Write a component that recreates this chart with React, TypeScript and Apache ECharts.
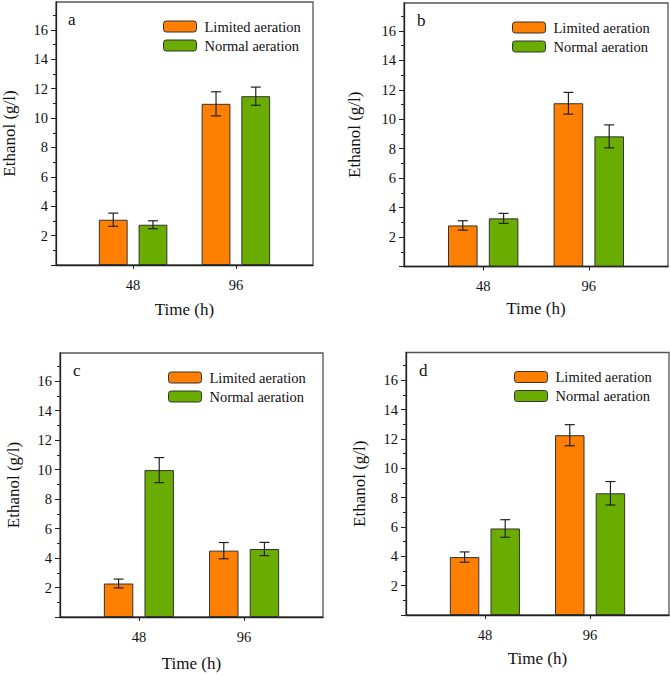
import React, { useEffect, useRef } from "react";
import * as echarts from "echarts";

// ---- data ----
const times = [48, 96];
const panelLabels = ["a", "b", "c", "d"];
const seriesNames = ["Limited aeration", "Normal aeration"];

const limitedA = [3.08, 10.97];
const limitedAErr = [0.45, 0.82];
const normalA = [2.74, 11.49];
const normalAErr = [0.27, 0.62];

const limitedB = [2.79, 11.09];
const limitedBErr = [0.32, 0.74];
const normalB = [3.27, 8.84];
const normalBErr = [0.34, 0.78];

const limitedC = [2.27, 4.5];
const limitedCErr = [0.3, 0.55];
const normalC = [9.96, 4.61];
const normalCErr = [0.85, 0.45];

const limitedD = [3.95, 12.26];
const limitedDErr = [0.35, 0.72];
const normalD = [5.9, 8.3];
const normalDErr = [0.6, 0.8];

const yTicks = [0, 2, 4, 6, 8, 10, 12, 14, 16];
const yLabels = [2, 4, 6, 8, 10, 12, 14, 16];

const panels = [
  { limited: limitedA, limitedErr: limitedAErr, normal: normalA, normalErr: normalAErr },
  { limited: limitedB, limitedErr: limitedBErr, normal: normalB, normalErr: normalBErr },
  { limited: limitedC, limitedErr: limitedCErr, normal: normalC, normalErr: normalCErr },
  { limited: limitedD, limitedErr: limitedDErr, normal: normalD, normalErr: normalDErr },
];

// ---- layout / style ----
const grids = [
  { left: 55, top: 2, width: 258, height: 263 },
  { left: 404, top: 3, width: 264, height: 263.5 },
  { left: 60, top: 353, width: 263, height: 264 },
  { left: 406, top: 352.5, width: 263, height: 262.5 },
];
const xNameGaps = [36, 33, 38, 35];
const yNameGaps = [38, 41, 38, 38];
const FONT = "Liberation Serif";
const ORANGE = "#FF7F00";
const GREEN = "#6AAD00";
const BAR_W = 0.28; // fraction of band (48 h)
const BAR_GAP = 0.38; // fraction of bar width
const BAND = 48;
const X_MIN = 12;
const X_MAX = 132;
const Y_MAX = 17.9;

function makeErrorSeries(idx: number, values: number[], errs: number[], side: number) {
  const offFrac = side * (BAR_W + BAR_W * BAR_GAP) / 2;
  return {
    type: "custom",
    xAxisIndex: idx,
    yAxisIndex: idx,
    z: 10,
    silent: true,
    data: times.map((t, i) => [t, values[i], errs[i]]),
    encode: { x: 0, y: 1 },
    renderItem: (params: any, api: any) => {
      const x = api.value(0);
      const y = api.value(1);
      const e = api.value(2);
      const off = api.size([BAND, 0])[0] * offFrac;
      const top = api.coord([x, y + e]);
      const bot = api.coord([x, y - e]);
      const cx = top[0] + off;
      const cap = 5;
      const style = { stroke: "#222", lineWidth: 1.2 };
      return {
        type: "group",
        children: [
          { type: "line", shape: { x1: cx, y1: top[1], x2: cx, y2: bot[1] }, style },
          { type: "line", shape: { x1: cx - cap, y1: top[1], x2: cx + cap, y2: top[1] }, style },
          { type: "line", shape: { x1: cx - cap, y1: bot[1], x2: cx + cap, y2: bot[1] }, style },
        ],
      };
    },
  };
}

export default function App() {
  const ref = useRef<HTMLDivElement>(null);
  useEffect(() => {
    if (!ref.current) return;
    const chart = echarts.init(ref.current, undefined, { renderer: "svg" });

    const grid = grids.map((g) => ({
      ...g,
      show: true,
      borderColor: "#555",
      borderWidth: 1.3,
      backgroundColor: "transparent",
      containLabel: false,
    }));

    const textBase = { fontFamily: FONT, fontWeight: "normal", color: "#111" };

    const xAxis = grids.map((g, i) => ({
      type: "value",
      gridIndex: i,
      min: X_MIN,
      max: X_MAX,
      name: "Time (h)",
      nameLocation: "middle",
      nameGap: xNameGaps[i],
      nameTextStyle: { ...textBase, fontSize: 17 },
      axisLine: { show: true, lineStyle: { color: "#222", width: 1.3 } },
      axisTick: { show: true, customValues: times, length: 4, inside: false, lineStyle: { color: "#222" } },
      axisLabel: { customValues: times, ...textBase, fontSize: 14.5, margin: 12 },
      splitLine: { show: false },
    }));

    const yAxis = grids.map((g, i) => ({
      type: "value",
      gridIndex: i,
      min: 0,
      max: Y_MAX,
      interval: 2,
      name: "Ethanol (g/l)",
      nameLocation: "middle",
      nameGap: yNameGaps[i],
      nameTextStyle: { ...textBase, fontSize: 17 },
      axisLine: { show: true, lineStyle: { color: "#222", width: 1.3 } },
      axisTick: { show: true, customValues: yTicks, length: 5, inside: false, lineStyle: { color: "#222" } },
      minorTick: { show: true, splitNumber: 2, length: 3, lineStyle: { color: "#222" } },
      axisLabel: { customValues: yLabels, ...textBase, fontSize: 14.5, margin: 8 },
      splitLine: { show: false },
      minorSplitLine: { show: false },
    }));

    const series: any[] = [];
    panels.forEach((p, i) => {
      series.push({
        type: "bar",
        name: seriesNames[0],
        xAxisIndex: i,
        yAxisIndex: i,
        data: times.map((t, k) => [t, p.limited[k]]),
        barWidth: `${BAR_W * 100}%`,
        barGap: `${BAR_GAP * 100}%`,
        itemStyle: { color: ORANGE, borderColor: "#333", borderWidth: 1 },
      });
      series.push({
        type: "bar",
        name: seriesNames[1],
        xAxisIndex: i,
        yAxisIndex: i,
        data: times.map((t, k) => [t, p.normal[k]]),
        barWidth: `${BAR_W * 100}%`,
        barGap: `${BAR_GAP * 100}%`,
        itemStyle: { color: GREEN, borderColor: "#333", borderWidth: 1 },
      });
      series.push(makeErrorSeries(i, p.limited, p.limitedErr, -1));
      series.push(makeErrorSeries(i, p.normal, p.normalErr, 1));
    });

    const legend = grids.map((g) => ({
      show: true,
      orient: "vertical",
      left: g.left + 108,
      top: g.top + 17,
      padding: 0,
      itemWidth: 33,
      itemHeight: 11,
      itemGap: 4,
      data: seriesNames,
      selectedMode: false,
      itemStyle: { borderColor: "#333", borderWidth: 1 },
      textStyle: { ...textBase, fontSize: 14.5, lineHeight: 15, padding: [0, 0, 0, 3] },
    }));

    const graphic = grids.map((g, i) => ({
      type: "text",
      left: g.left + 13,
      top: g.top + 9,
      style: { text: panelLabels[i], fontFamily: FONT, fontSize: 17, fill: "#111" },
    }));

    chart.setOption({
      animation: false,
      backgroundColor: "#fff",
      grid,
      xAxis,
      yAxis,
      legend,
      series,
      graphic,
    });
    return () => chart.dispose();
  }, []);

  return (
    <div
      ref={ref}
      style={{ position: "fixed", left: 0, top: 0, width: 670, height: 676, background: "#fff" }}
    />
  );
}
